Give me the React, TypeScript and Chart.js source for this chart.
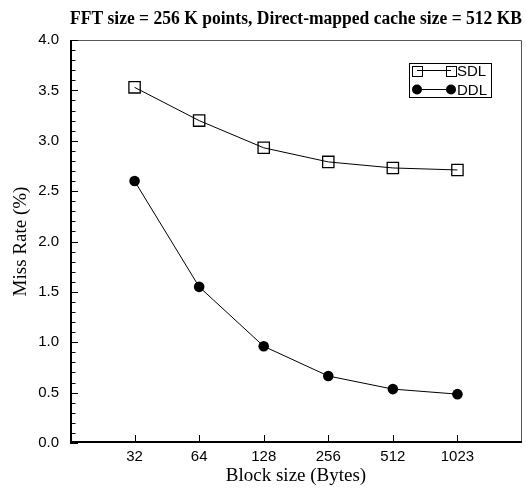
import React, { useEffect, useRef } from 'react';
import { Chart, registerables } from 'chart.js';

Chart.register(...registerables);

// ---- data ----
const blockSizes: string[] = ['32', '64', '128', '256', '512', '1023'];
const sdlMissRate: number[] = [3.53, 3.2, 2.93, 2.79, 2.73, 2.71];
const ddlMissRate: number[] = [2.6, 1.55, 0.96, 0.665, 0.535, 0.485];
const seriesLabels: string[] = ['SDL', 'DDL'];
const chartTitle = 'FFT size = 256 K points, Direct-mapped cache size = 512 KB';
const xTitle = 'Block size (Bytes)';
const yTitle = 'Miss Rate (%)';

const SANS = "'Liberation Sans', Arial, sans-serif";
const SERIF = "'Liberation Serif', 'Times New Roman', serif";

const framePlugin = {
  id: 'frame',
  afterDraw(chart: any) {
    const { ctx, chartArea } = chart;
    const { left, right, top, bottom } = chartArea;
    const ys = chart.scales.y;
    const xs = chart.scales.x;
    ctx.save();
    ctx.strokeStyle = '#555';
    ctx.lineWidth = 1;
    ctx.beginPath();
    ctx.moveTo(left, top + 0.5);
    ctx.lineTo(right - 0.5, top + 0.5);
    ctx.lineTo(right - 0.5, bottom);
    ctx.stroke();
    ctx.strokeStyle = '#000';
    ctx.lineWidth = 2;
    ctx.beginPath();
    ctx.moveTo(left + 1, top);
    ctx.lineTo(left + 1, bottom - 1);
    ctx.lineTo(right, bottom - 1);
    ctx.stroke();
    ctx.lineWidth = 1;
    ctx.beginPath();
    for (let i = 0; i <= 40; i++) {
      const py = Math.round(ys.getPixelForValue(i / 10)) + 0.5;
      const len = i % 5 === 0 ? 6 : 3.5;
      ctx.moveTo(left, py);
      ctx.lineTo(left + 2 + len, py);
    }
    xs.ticks.forEach((t: any) => {
      const px = Math.round(xs.getPixelForValue(t.value)) + 0.5;
      ctx.moveTo(px, bottom);
      ctx.lineTo(px, bottom - 8);
    });
    ctx.stroke();
    ctx.restore();
  },
};

const legendPlugin = {
  id: 'customLegend',
  afterDraw(chart: any) {
    const { ctx, chartArea } = chart;
    const boxRight = chartArea.right - 31;
    const boxTop = chartArea.top + 23;
    const boxW = 82;
    const boxH = 34;
    const boxLeft = boxRight - boxW;
    ctx.save();
    ctx.fillStyle = '#fff';
    ctx.fillRect(boxLeft, boxTop, boxW, boxH);
    ctx.strokeStyle = '#000';
    ctx.lineWidth = 1;
    ctx.strokeRect(boxLeft + 0.5, boxTop + 0.5, boxW, boxH);
    chart.data.datasets.forEach((ds: any, i: number) => {
      const cy = boxTop + 7.5 + i * 19;
      const x1 = boxLeft + 8;
      const x2 = boxLeft + 42;
      ctx.strokeStyle = ds.borderColor;
      ctx.lineWidth = 1;
      ctx.beginPath();
      ctx.moveTo(x1, cy);
      ctx.lineTo(x2, cy);
      ctx.stroke();
      [x1, x2].forEach((px) => {
        if (ds.pointStyle === 'rect') {
          ctx.strokeStyle = '#000';
          ctx.strokeRect(Math.round(px - 5) + 0.5, Math.round(cy - 5) + 0.5, 10, 10);
        } else {
          ctx.fillStyle = '#000';
          ctx.beginPath();
          ctx.arc(px, cy, 5, 0, Math.PI * 2);
          ctx.fill();
        }
      });
      ctx.fillStyle = '#000';
      ctx.font = `15px ${SANS}`;
      ctx.textAlign = 'left';
      ctx.textBaseline = 'middle';
      ctx.fillText(ds.label, x2 + 6, cy + 1);
    });
    ctx.restore();
  },
};

export default function App() {
  const canvasRef = useRef<HTMLCanvasElement | null>(null);

  useEffect(() => {
    document.body.style.margin = '0';
    const canvas = canvasRef.current;
    if (!canvas) return;
    const chart = new Chart(canvas, {
      type: 'line',
      data: {
        datasets: [
          {
            label: seriesLabels[0],
            data: blockSizes.map((_, i) => ({ x: i + 1, y: sdlMissRate[i] })),
            borderColor: '#000',
            borderWidth: 1,
            pointStyle: 'rect',
            pointRadius: 8,
            pointBorderWidth: 1.3,
            pointBorderColor: '#000',
            pointBackgroundColor: 'rgba(0,0,0,0)',
            fill: false,
            tension: 0,
          },
          {
            label: seriesLabels[1],
            data: blockSizes.map((_, i) => ({ x: i + 1, y: ddlMissRate[i] })),
            borderColor: '#000',
            borderWidth: 1,
            pointStyle: 'circle',
            pointRadius: 5.3,
            pointBorderWidth: 0,
            pointBackgroundColor: '#000',
            fill: false,
            tension: 0,
          },
        ],
      },
      options: {
        responsive: false,
        animation: false,
        layout: { autoPadding: false, padding: { left: 0, right: 4, top: 0, bottom: 0 } },
        plugins: {
          legend: { display: false },
          tooltip: { enabled: false },
          title: {
            display: true,
            text: chartTitle,
            fullSize: false,
            align: 'end',
            color: '#000',
            font: { family: SERIF, size: 18, weight: 'bold', lineHeight: 1.2 },
            padding: { top: 8.2, bottom: 40 - 8.2 - 18 * 1.2 },
          },
        },
        scales: {
          x: {
            type: 'linear',
            min: 0,
            max: 7,
            afterBuildTicks: (scale: any) => {
              scale.ticks = blockSizes.map((_, i) => ({ value: i + 1 }));
            },
            afterFit: (scale: any) => {
              scale.height = 46;
              scale.paddingLeft = 0;
              scale.paddingRight = 0;
            },
            grid: { display: false, drawTicks: false },
            border: { display: false },
            ticks: {
              autoSkip: false,
              maxRotation: 0,
              padding: 5,
              color: '#000',
              font: { family: SANS, size: 15 },
              callback: (value: any) => blockSizes[Number(value) - 1] ?? '',
            },
            title: {
              display: true,
              text: xTitle,
              color: '#000',
              font: { family: SERIF, size: 19, lineHeight: 1.2 },
              padding: { top: 0, bottom: 1.6 },
            },
          },
          y: {
            type: 'linear',
            min: 0,
            max: 4,
            afterFit: (scale: any) => {
              scale.width = 70;
              scale.paddingTop = 0;
              scale.paddingBottom = 0;
            },
            grid: { display: false, drawTicks: false },
            border: { display: false },
            ticks: {
              stepSize: 0.5,
              padding: 11,
              color: '#000',
              font: { family: SANS, size: 15 },
              callback: (value: any) => Number(value).toFixed(1),
            },
            title: {
              display: true,
              text: yTitle,
              color: '#000',
              font: { family: SERIF, size: 19, lineHeight: 1.2 },
              padding: { top: 10, bottom: 0 },
            },
          },
        },
      },
      plugins: [framePlugin, legendPlugin],
    });
    return () => chart.destroy();
  }, []);

  return (
    <div style={{ position: 'absolute', left: 0, top: 0, width: 526, height: 489, background: '#fff' }}>
      <canvas ref={canvasRef} width={526} height={489} />
    </div>
  );
}
